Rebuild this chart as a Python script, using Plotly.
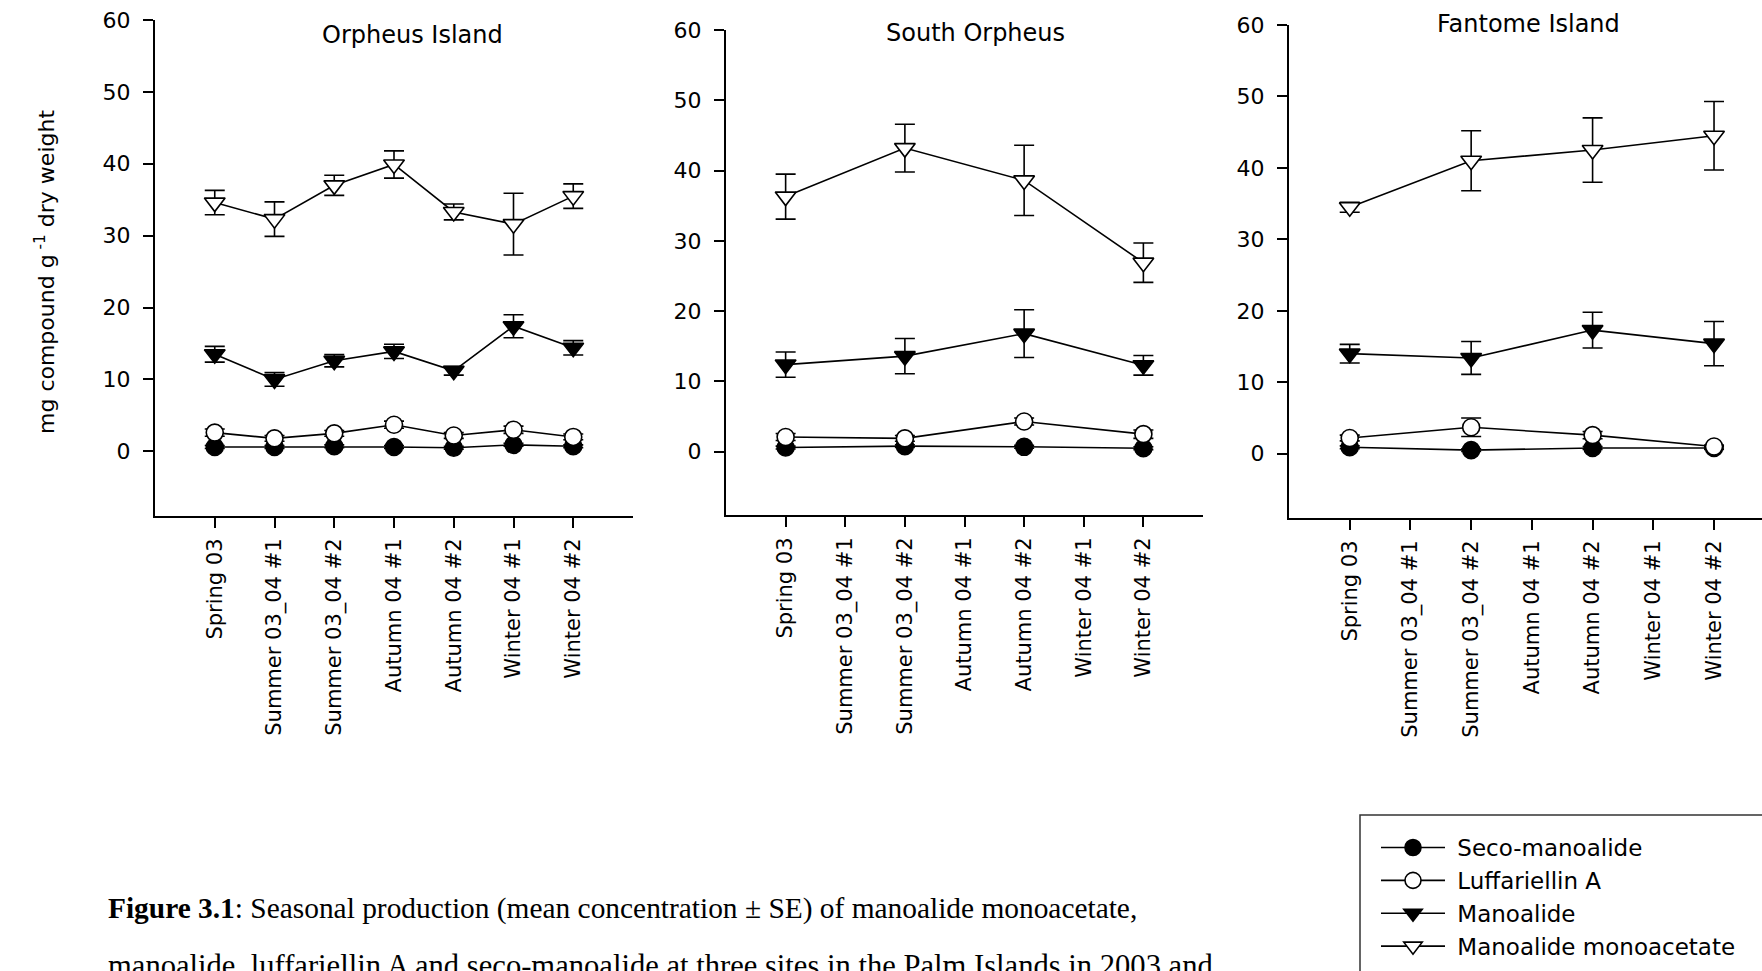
import plotly.graph_objects as go

# ---------------- data ----------------
seasons = ["Spring 03", "Summer 03_04 #1", "Summer 03_04 #2", "Autumn 04 #1",
           "Autumn 04 #2", "Winter 04 #1", "Winter 04 #2"]
sub_seasons = ["Spring 03", "Summer 03_04 #2", "Autumn 04 #2", "Winter 04 #2"]

series_names = ["Seco-manoalide", "Luffariellin A", "Manoalide", "Manoalide monoacetate"]

# Orpheus Island
orph_seco = [0.6, 0.6, 0.7, 0.6, 0.5, 0.9, 0.7]
orph_seco_se = [0.2, 0.2, 0.2, 0.2, 0.2, 0.2, 0.2]
orph_luff = [2.6, 1.8, 2.5, 3.7, 2.2, 3.0, 2.0]
orph_luff_se = [0.5, 0.4, 0.4, 0.5, 0.4, 0.5, 0.4]
orph_mano = [13.5, 10.0, 12.6, 13.9, 11.2, 17.4, 14.4]
orph_mano_se = [1.1, 0.95, 0.85, 1.0, 0.6, 1.6, 1.0]
orph_mono = [34.6, 32.3, 37.0, 39.9, 33.3, 31.6, 35.5]
orph_mono_se = [1.7, 2.4, 1.4, 1.9, 1.1, 4.3, 1.7]

# South Orpheus
so_seco = [0.6, 0.8, 0.7, 0.5]
so_seco_se = [0.2, 0.2, 0.2, 0.2]
so_luff = [2.1, 1.9, 4.3, 2.5]
so_luff_se = [0.5, 0.4, 0.5, 0.6]
so_mano = [12.4, 13.6, 16.8, 12.3]
so_mano_se = [1.8, 2.5, 3.4, 1.4]
so_mono = [36.3, 43.2, 38.6, 26.9]
so_mono_se = [3.2, 3.4, 5.0, 2.8]

# Fantome Island
fa_seco = [0.9, 0.5, 0.8, 0.8]
fa_seco_se = [0.2, 0.2, 0.2, 0.2]
fa_luff = [2.2, 3.7, 2.6, 1.0]
fa_luff_se = [0.4, 1.3, 0.5, 0.2]
fa_mano = [14.0, 13.4, 17.3, 15.4]
fa_mano_se = [1.3, 2.3, 2.5, 3.1]
fa_mono = [34.5, 41.0, 42.5, 44.5]
fa_mono_se = [0.7, 4.2, 4.5, 4.8]

panel_titles = ["Orpheus Island", "South Orpheus", "Fantome Island"]

# ---------------- layout helpers ----------------
W, H = 1762, 971
FONT = "DejaVu Sans"


def fx(p):
    return p / W


def fy(p):
    return 1 - p / H


styles = {
    "Seco-manoalide": dict(symbol="circle", fill="black", size=17),
    "Luffariellin A": dict(symbol="circle", fill="white", size=17),
    "Manoalide": dict(symbol="triangle-down", fill="black", size=18),
    "Manoalide monoacetate": dict(symbol="triangle-down", fill="white", size=18),
}

panels = [
    dict(x=seasons, vals=[orph_seco, orph_luff, orph_mano, orph_mono],
         errs=[orph_seco_se, orph_luff_se, orph_mano_se, orph_mono_se]),
    dict(x=sub_seasons, vals=[so_seco, so_luff, so_mano, so_mono],
         errs=[so_seco_se, so_luff_se, so_mano_se, so_mono_se]),
    dict(x=sub_seasons, vals=[fa_seco, fa_luff, fa_mano, fa_mono],
         errs=[fa_seco_se, fa_luff_se, fa_mano_se, fa_mono_se]),
]

fig = go.Figure()
for i, p in enumerate(panels):
    sfx = "" if i == 0 else str(i + 1)
    for name, v, e in zip(series_names, p["vals"], p["errs"]):
        st = styles[name]
        fig.add_trace(go.Scatter(
            x=p["x"], y=v, name="\u00a0" + name, mode="lines+markers",
            xaxis="x" + sfx, yaxis="y" + sfx,
            showlegend=(i == 0),
            line=dict(color="black", width=1.6),
            marker=dict(symbol=st["symbol"], size=st["size"], color=st["fill"],
                        line=dict(color="black", width=1.6)),
            error_y=dict(type="data", array=e, visible=True, color="black",
                         thickness=1.6, width=10),
        ))

# pixel geometry of each panel: (x0, x1, ytop, ybottom, xrange_end, ymin)
geom = [
    (155, 633, 20, 516, 7, -9),
    (726, 1203, 30, 515, 7, -9),
    (1289, 1762, 25, 518, 6.79, -9),
]

axis_common = dict(showline=True, linecolor="black", linewidth=2, ticks="outside",
                   ticklen=10, tickwidth=2, tickcolor="black", showgrid=False,
                   zeroline=False)

layout = dict(width=W, height=H, margin=dict(l=0, r=0, t=0, b=0, autoexpand=False),
              paper_bgcolor="white", plot_bgcolor="white",
              font=dict(family=FONT, color="black"))

for i, (x0, x1, yt, yb, xr, ymin) in enumerate(geom):
    sfx = "" if i == 0 else str(i + 1)
    layout["xaxis" + sfx] = dict(
        axis_common, type="category", categoryorder="array", categoryarray=seasons,
        tickvals=seasons, ticktext=seasons,
        tickfont=dict(family=FONT, size=21, color="black"),
        range=[-1, xr], domain=[fx(x0), fx(x1)], anchor="y" + sfx,
        tickangle=-90, ticklabelstandoff=2)
    layout["yaxis" + sfx] = dict(
        axis_common, range=[ymin, 60], tickvals=[0, 10, 20, 30, 40, 50, 60],
        tickfont=dict(family=FONT, size=22, color="black"),
        domain=[fy(yb), fy(yt)], anchor="x" + sfx, ticklabelstandoff=8)

fig.update_layout(**layout)

annotations = []
title_pos = [(412, 35), (975, 33), (1528, 24)]
for t, (px, py) in zip(panel_titles, title_pos):
    annotations.append(dict(text=t, x=fx(px), y=fy(py), xref="paper", yref="paper",
                            showarrow=False, xanchor="center", yanchor="middle",
                            font=dict(family=FONT, size=24, color="black")))

annotations.append(dict(text="mg compound g<sup> -1</sup> dry weight", x=fx(45), y=fy(272),
                        xref="paper", yref="paper", showarrow=False, textangle=-90,
                        xanchor="center", yanchor="middle",
                        font=dict(family=FONT, size=22, color="black")))

annotations.append(dict(
    text="<b>Figure 3.1</b>: Seasonal production (mean concentration ± SE) of manoalide monoacetate,",
    x=fx(106), y=fy(908), xref="paper", yref="paper", showarrow=False,
    xanchor="left", yanchor="middle",
    font=dict(family="Liberation Serif", size=29.4, color="black")))
annotations.append(dict(
    text="manoalide, luffariellin A and seco-manoalide at three sites in the Palm Islands in 2003 and",
    x=fx(106), y=fy(966), xref="paper", yref="paper", showarrow=False,
    xanchor="left", yanchor="middle",
    font=dict(family="Liberation Serif", size=30.6, color="black")))

fig.update_layout(annotations=annotations)

# legend box (extends past the figure edge, as in the reference)
fig.add_shape(type="rect", xref="paper", yref="paper",
              x0=fx(1360), x1=fx(1800), y0=fy(1010), y1=fy(815),
              line=dict(color="#333333", width=1.5), fillcolor="white", layer="below")

fig.update_layout(legend=dict(
    x=fx(1376), y=fy(826), xanchor="left", yanchor="top",
    bgcolor="rgba(0,0,0,0)", borderwidth=0, itemwidth=64,
    font=dict(family=FONT, size=23, color="black"), traceorder="normal"))

fig.write_html("out.html", config={"displayModeBar": False},
               post_script="document.body.style.margin='0px';document.body.style.overflow='hidden';")
